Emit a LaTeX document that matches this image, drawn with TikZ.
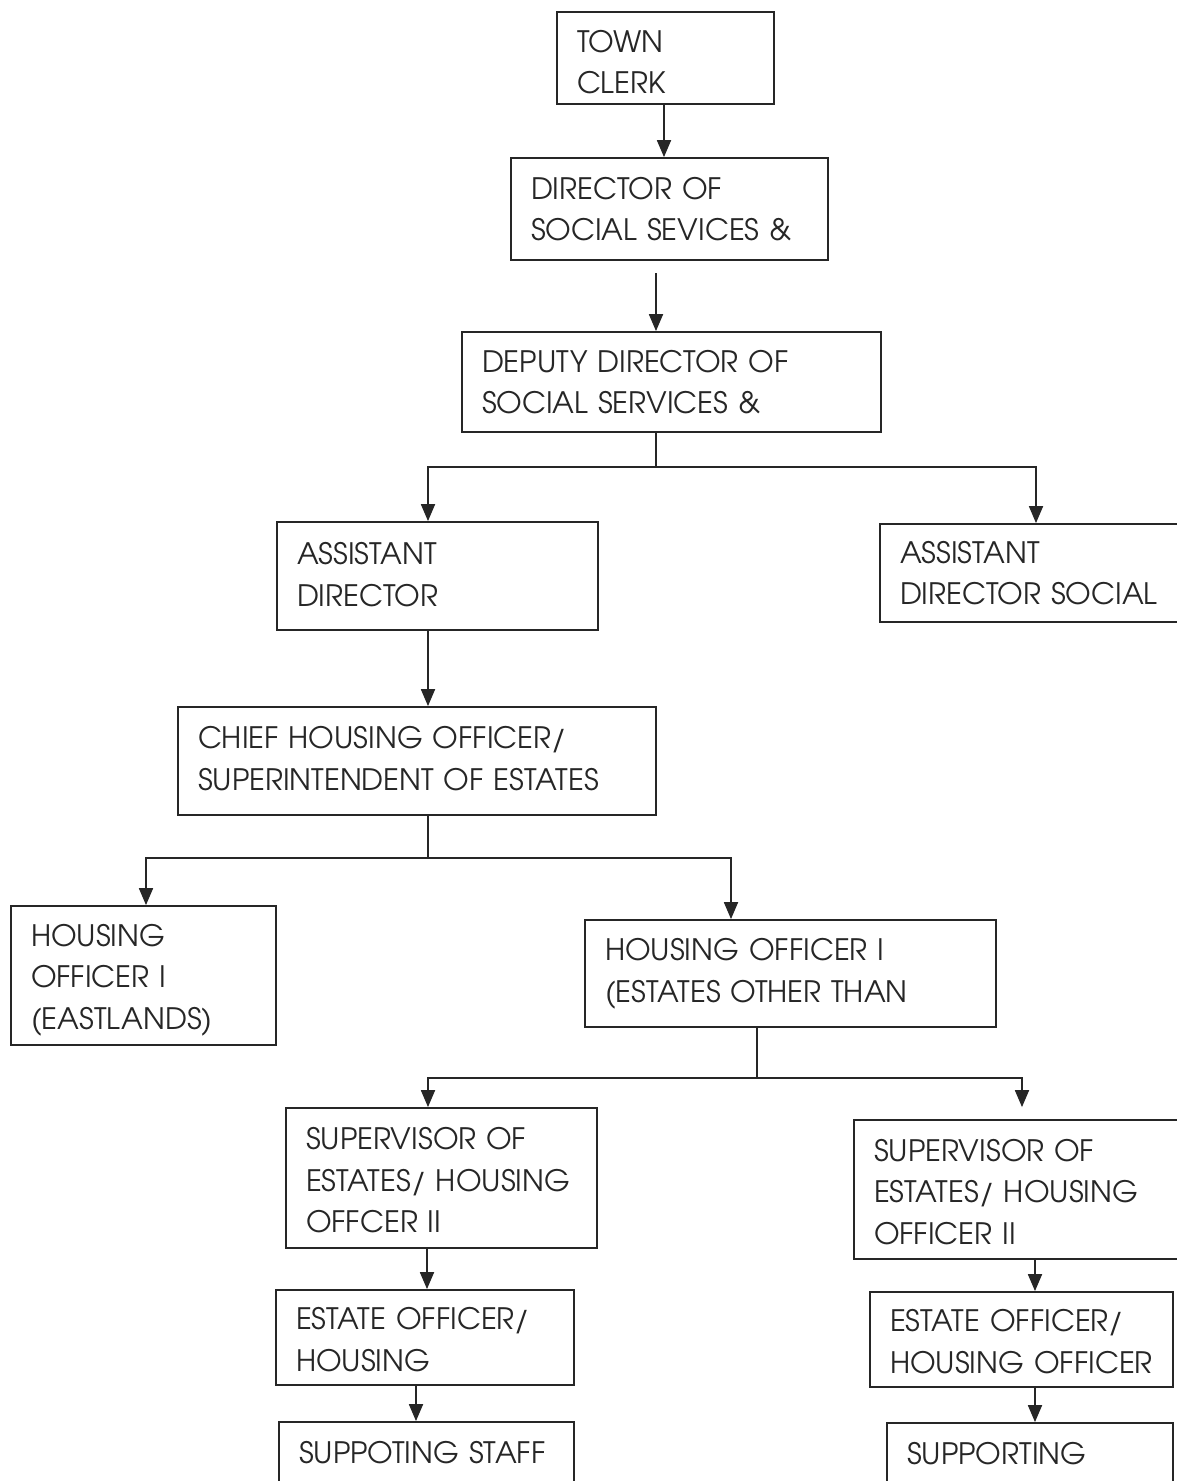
\documentclass[tikz,border=0pt]{standalone}
\usepackage{fontspec}
\setmainfont{TeX Gyre Adventor}
\usetikzlibrary{arrows.meta}
\definecolor{ink}{HTML}{262626}
\newcommand\dnshift[1]{\raisebox{#1}{\vphantom{A}}}
\newcommand\upshift[1]{\raisebox{-#1}{\vphantom{A}}}
\tikzset{
  box/.style={draw=ink, line width=1.8pt, rectangle, inner xsep=20pt, inner ysep=0pt,
    align=left, text=ink, font=\fontsize{29.5}{41.5}\selectfont},
  arr/.style={draw=ink, line width=1.8pt, -{Triangle[length=17pt,width=14pt]}},
  ln/.style={draw=ink, line width=1.8pt}
}
\begin{document}
\begin{tikzpicture}[x=1pt,y=-1pt]
\useasboundingbox (0,0) rectangle (1177,1481);
\clip (0,0) rectangle (1177,1481);
\fill[white] (0,0) rectangle (1177,1481);
% boxes
\node[box, text width=177pt, minimum height=92pt] (town) at (665.5,58) {\dnshift{9pt}TOWN\\CLERK};
\node[box, text width=277pt, minimum height=102pt] (dir) at (669.5,209) {DIRECTOR OF\\SOCIAL SEVICES \&};
\node[box, text width=379pt, minimum height=100pt] (dep) at (671.5,382) {DEPUTY DIRECTOR OF\\SOCIAL SERVICES \&};
\node[box, text width=281pt, minimum height=108pt] (ad) at (437.5,576) {ASSISTANT\\DIRECTOR\upshift{3pt}};
\node[box, text width=290pt, minimum height=98pt] (ads) at (1045,573) {ASSISTANT\\DIRECTOR SOCIAL};
\node[box, text width=438pt, minimum height=108pt] (chief) at (417,761) {CHIEF HOUSING OFFICER/\\SUPERINTENDENT OF ESTATES\upshift{5pt}};
\node[box, text width=225pt, minimum height=139pt] (hoe) at (143.5,975.5) {\dnshift{9pt}HOUSING\\OFFICER I\\(EASTLANDS)};
\node[box, text width=371pt, minimum height=107pt] (hoo) at (790.5,973.5) {HOUSING OFFICER I\\(ESTATES OTHER THAN};
\node[box, text width=271pt, minimum height=140pt] (supl) at (441.5,1178) {\dnshift{5pt}SUPERVISOR OF\\ESTATES/ HOUSING\\OFFCER II};
\node[box, text width=316pt, minimum height=139pt] (supr) at (1032,1189.5) {\dnshift{5pt}SUPERVISOR OF\\ESTATES/ HOUSING\\OFFICER II};
\node[box, text width=258pt, minimum height=95pt] (estl) at (425,1337.5) {\dnshift{5pt}ESTATE OFFICER/\\HOUSING};
\node[box, text width=263pt, minimum height=95pt] (estr) at (1021.5,1339.5) {\dnshift{5pt}ESTATE OFFICER/\\HOUSING OFFICER};
\node[box, text width=255pt, minimum height=62pt] (stl) at (426.5,1453) {SUPPOTING STAFF};
\node[box, text width=246pt, minimum height=74pt] (str) at (1030,1460) {SUPPORTING\upshift{13pt}};
% junctions
\coordinate (x1) at (656,273);
\coordinate (j1) at (656,467);
\coordinate (j2) at (428,858);
\coordinate (j3) at (757,1078);
% connectors
\draw[arr] ([xshift=-1.5pt]town.south) -- ([xshift=-1.5pt]town.south |- dir.north);
\draw[arr] (x1) -- (x1 |- dep.north);
\draw[ln] (dep.south -| j1) -- (j1);
\draw[arr] (j1) -| ([xshift=-9.5pt]ad.north);
\draw[arr] (j1) -| ([xshift=-9pt]ads.north);
\draw[arr] (ad.south -| j2) -- (chief.north -| j2);
\draw[ln] (chief.south -| j2) -- (j2);
\draw[arr] (j2) -| ([xshift=2.5pt]hoe.north);
\draw[arr] (j2) -| ([xshift=-59.5pt]hoo.north);
\draw[ln] (hoo.south -| j3) -- (j3);
\draw[arr] (j3) -| ([xshift=-13.5pt]supl.north);
\draw[arr, shorten >=12pt] (j3) -| ([xshift=-10pt]supr.north);
\draw[arr] ([xshift=-14.5pt]supl.south) -- ([xshift=-14.5pt]supl.south |- estl.north);
\draw[arr] ([xshift=-9pt]estl.south) -- ([xshift=-9pt]estl.south |- stl.north);
\draw[arr] ([xshift=3pt]supr.south) -- ([xshift=3pt]supr.south |- estr.north);
\draw[arr] ([xshift=13.5pt]estr.south) -- ([xshift=13.5pt]estr.south |- str.north);
\end{tikzpicture}
\end{document}
